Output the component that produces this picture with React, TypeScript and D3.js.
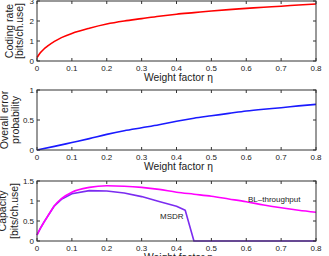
import React from "react";
import * as d3 from "d3";

const etaTicks = [0, 0.1, 0.2, 0.3, 0.4, 0.5, 0.6, 0.7, 0.8];

const etaRate = [0, 0.01, 0.02, 0.03, 0.05, 0.07, 0.1, 0.15, 0.2, 0.25, 0.3, 0.35, 0.4, 0.45, 0.5, 0.55, 0.6, 0.65, 0.7, 0.75, 0.8];
const codingRate = [0.17, 0.42, 0.6, 0.74, 0.98, 1.17, 1.38, 1.64, 1.85, 2.0, 2.12, 2.24, 2.34, 2.42, 2.5, 2.57, 2.63, 2.69, 2.74, 2.8, 2.85];

const etaErr = [0, 0.05, 0.1, 0.15, 0.2, 0.25, 0.3, 0.35, 0.4, 0.45, 0.5, 0.55, 0.6, 0.65, 0.7, 0.75, 0.8];
const errorProb = [0, 0.06, 0.125, 0.19, 0.26, 0.32, 0.37, 0.42, 0.48, 0.53, 0.57, 0.61, 0.65, 0.68, 0.705, 0.735, 0.76];

const etaBL = [0, 0.01, 0.02, 0.03, 0.05, 0.07, 0.1, 0.15, 0.2, 0.25, 0.3, 0.35, 0.4, 0.45, 0.5, 0.55, 0.6, 0.65, 0.7, 0.75, 0.8];
const blThroughput = [0.15, 0.32, 0.47, 0.61, 0.88, 1.06, 1.22, 1.34, 1.38, 1.37, 1.34, 1.29, 1.22, 1.17, 1.12, 1.05, 0.98, 0.9, 0.83, 0.77, 0.72];

const etaMSDR = [0, 0.01, 0.02, 0.03, 0.05, 0.07, 0.1, 0.15, 0.2, 0.25, 0.3, 0.35, 0.4, 0.425, 0.45, 0.5, 0.6, 0.7, 0.8];
const msdr = [0.15, 0.32, 0.47, 0.61, 0.88, 1.04, 1.18, 1.26, 1.25, 1.2, 1.11, 0.99, 0.87, 0.77, 0, 0, 0, 0, 0];

const rateTicks = [0, 1, 2, 3];
const errTicks = [0, 0.5, 1];
const capTicks = [0, 0.5, 1, 1.5];
const capTickLabels = ["0", "0.5", "1", "1.5"];

const FONT = "'Liberation Sans', Arial, Helvetica, sans-serif";
const X0 = 37;
const X1 = 316;
const AX = "#333";

type Series = { xs: number[]; ys: number[]; color: string; smooth: boolean };

function Panel(props: {
  top: number;
  bottom: number;
  yMax: number;
  yTicks: number[];
  yTickLabels: string[];
  series: Series[];
  ylabel: string[];
  ylabelX: number[];
  children?: React.ReactNode;
}) {
  const { top, bottom, yMax, yTicks, yTickLabels, series, ylabel, ylabelX } = props;
  const x = d3.scaleLinear().domain([0, 0.8]).range([X0, X1]);
  const y = d3.scaleLinear().domain([0, yMax]).range([bottom, top]);
  const tl = 3;
  const cy = (top + bottom) / 2;
  return (
    <g>
      {series.map((s, i) => {
        const line = d3
          .line<[number, number]>()
          .x((d) => x(d[0]))
          .y((d) => y(d[1]))
          .curve(s.smooth ? d3.curveMonotoneX : d3.curveLinear);
        return (
          <path
            key={i}
            d={line(s.xs.map((v, j) => [v, s.ys[j]] as [number, number])) || ""}
            fill="none"
            stroke={s.color}
            strokeWidth={1.6}
            strokeLinejoin="round"
          />
        );
      })}
      <rect x={X0} y={top} width={X1 - X0} height={bottom - top} fill="none" stroke={AX} strokeWidth={1} />
      {etaTicks.map((t, i) => (
        <g key={"x" + i}>
          <line x1={x(t)} x2={x(t)} y1={bottom} y2={bottom - tl} stroke={AX} />
          <line x1={x(t)} x2={x(t)} y1={top} y2={top + tl} stroke={AX} />
          <text x={x(t)} y={bottom + 9.5} fontSize={8} textAnchor="middle" fontFamily={FONT} fill="#222">
            {String(t)}
          </text>
        </g>
      ))}
      {yTicks.map((t, i) => (
        <g key={"y" + i}>
          <line x1={X0} x2={X0 + tl} y1={y(t)} y2={y(t)} stroke={AX} />
          <line x1={X1} x2={X1 - tl} y1={y(t)} y2={y(t)} stroke={AX} />
          <text x={X0 - 3} y={y(t) + 3} fontSize={8} textAnchor="end" fontFamily={FONT} fill="#222">
            {yTickLabels[i]}
          </text>
        </g>
      ))}
      <text x={(X0 + X1) / 2 + 2} y={bottom + 19.5} fontSize={10.3} textAnchor="middle" fontFamily={FONT} fill="#222">
        Weight factor η
      </text>
      {ylabel.map((l, i) => (
        <text
          key={"l" + i}
          transform={`translate(${ylabelX[i]},${cy}) rotate(-90)`}
          fontSize={10.5}
          textAnchor="middle"
          fontFamily={FONT}
          fill="#222"
        >
          {l}
        </text>
      ))}
      {props.children}
    </g>
  );
}

export default function App() {
  return (
    <svg width={329} height={256} style={{ position: "absolute", left: 0, top: 0, background: "#fff" }}>
      <Panel
        top={1}
        bottom={61}
        yMax={3}
        yTicks={rateTicks}
        yTickLabels={rateTicks.map(String)}
        series={[{ xs: etaRate, ys: codingRate, color: "#ff0000", smooth: true }]}
        ylabel={["Coding rate", "[bits/ch.use]"]}
        ylabelX={[13, 23]}
      />
      <Panel
        top={90}
        bottom={150}
        yMax={1}
        yTicks={errTicks}
        yTickLabels={errTicks.map(String)}
        series={[{ xs: etaErr, ys: errorProb, color: "#1a1aff", smooth: true }]}
        ylabel={["Overall error", "probability"]}
        ylabelX={[8, 19]}
      />
      <Panel
        top={181}
        bottom={241}
        yMax={1.5}
        yTicks={capTicks}
        yTickLabels={capTickLabels}
        series={[
          { xs: etaMSDR, ys: msdr, color: "#7b2cf0", smooth: false },
          { xs: etaBL, ys: blThroughput, color: "#ff00ff", smooth: true },
        ]}
        ylabel={["Capacity", "[bits/ch.use]"]}
        ylabelX={[6, 18]}
      >
        <text x={160} y={219} fontSize={8} fontFamily={FONT} fill="#222">
          MSDR
        </text>
        <text x={248} y={201.5} fontSize={8} fontFamily={FONT} fill="#222">
          BL–throughput
        </text>
      </Panel>
    </svg>
  );
}
